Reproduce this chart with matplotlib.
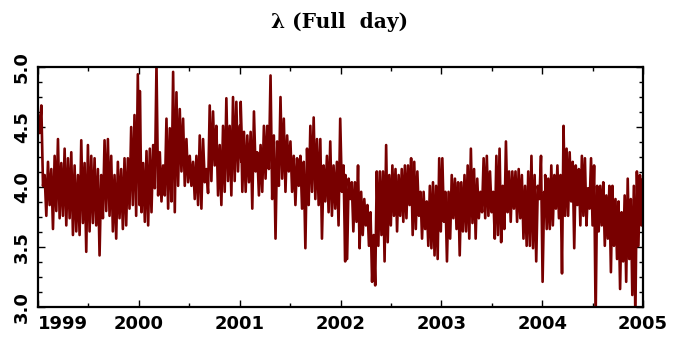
import numpy as np
import matplotlib.pyplot as plt
from matplotlib.ticker import MultipleLocator

span_1999 = (1999.00, 1999.99)
hi_1999 = [4.60, 4.68, 4.10, 4.21, 4.15, 4.26, 4.40, 4.20, 4.32, 4.24, 4.29, 4.18, 4.10, 4.39, 4.20, 4.35,
           4.26, 4.24, 4.15, 4.10, 4.39, 4.40, 4.26, 4.10, 4.21, 4.15, 4.24, 4.24, 4.50, 4.60, 4.94]
lo_1999 = [4.45, 4.01, 3.76, 3.85, 3.65, 3.80, 3.74, 3.76, 3.68, 3.74, 3.60, 3.63, 3.60, 3.70, 3.46, 3.63,
           3.70, 3.68, 3.43, 3.74, 3.80, 3.76, 3.63, 3.57, 3.74, 3.65, 3.68, 3.82, 3.85, 3.76, 3.85]

span_2000 = (2000.01, 2001.00)
hi_2000 = [4.80, 4.20, 4.30, 4.32, 4.35, 5.02, 4.29, 4.18, 4.57, 4.49, 4.96, 4.79, 4.65, 4.57, 4.40, 4.26,
           4.21, 4.26, 4.43, 4.40, 4.15, 4.68, 4.63, 4.51, 4.35, 4.51, 4.74, 4.51, 4.75, 4.71, 4.51]
lo_2000 = [3.79, 3.71, 3.68, 3.79, 3.99, 3.93, 3.88, 3.93, 3.82, 3.88, 3.79, 4.01, 4.13, 4.01, 4.04, 4.01,
           3.90, 3.85, 3.82, 4.04, 3.95, 4.05, 4.18, 3.93, 3.85, 3.96, 4.05, 3.93, 4.05, 4.13, 4.21]

span_2001 = (2001.01, 2002.03)
hi_2001 = [4.71, 4.46, 4.43, 4.46, 4.63, 4.29, 4.35, 4.51, 4.51, 4.93, 4.43, 4.38, 4.75, 4.57, 4.43, 4.38,
           4.26, 4.24, 4.26, 4.21, 4.32, 4.51, 4.58, 4.40, 4.40, 4.18, 4.26, 4.38, 4.18, 4.21, 4.57, 4.18]
lo_2001 = [3.96, 3.96, 4.04, 3.82, 4.13, 3.93, 3.96, 4.07, 4.15, 3.90, 3.57, 4.01, 4.07, 3.96, 4.13, 3.96,
           3.85, 4.01, 3.82, 3.49, 3.85, 3.96, 3.90, 3.85, 3.57, 3.88, 3.79, 3.76, 3.82, 3.68, 3.96, 3.38]

span_2002 = (2002.05, 2003.01)
hi_2002 = [4.10, 4.07, 4.04, 4.04, 4.18, 3.96, 3.90, 3.85, 3.79, 3.60, 4.13, 4.13, 4.13, 4.35, 4.10, 4.18,
           4.15, 4.10, 4.15, 4.18, 4.18, 4.24, 4.21, 4.13, 3.96, 3.96, 3.88, 4.01, 4.04, 4.01, 4.24, 4.24]
lo_2002 = [3.40, 3.90, 3.63, 3.71, 3.49, 3.60, 3.68, 3.51, 3.21, 3.18, 3.51, 3.60, 3.38, 3.54, 3.68, 3.76,
           3.63, 3.76, 3.71, 3.74, 3.85, 3.60, 3.65, 3.76, 3.57, 3.65, 3.51, 3.49, 3.43, 3.40, 3.63, 3.71]

span_2003 = (2003.04, 2004.02)
hi_2003 = [3.96, 3.96, 4.10, 4.07, 4.04, 4.04, 4.10, 4.18, 4.32, 4.15, 4.07, 3.96, 4.24, 4.26, 4.13, 3.96,
           4.26, 4.32, 4.01, 4.38, 4.13, 4.13, 4.13, 4.15, 4.10, 4.01, 4.13, 4.26, 4.10, 4.01, 4.26, 3.96]
lo_2003 = [3.38, 3.57, 3.74, 3.65, 3.43, 3.63, 3.63, 3.57, 3.70, 3.57, 3.74, 3.79, 3.74, 3.76, 3.79, 3.57,
           3.60, 3.54, 3.65, 3.79, 3.71, 3.82, 3.71, 3.74, 3.57, 3.51, 3.51, 3.49, 3.38, 3.90, 3.21, 3.79]

span_2004 = (2004.03, 2005.00)
hi_2004 = [4.10, 4.07, 4.18, 4.10, 4.18, 4.10, 4.51, 4.32, 4.29, 4.21, 4.18, 4.15, 4.26, 4.24, 3.99, 4.24,
           4.18, 4.01, 4.01, 4.04, 3.93, 4.01, 4.01, 3.90, 3.88, 3.79, 3.93, 4.07, 3.90, 4.01, 4.13, 4.10, 4.07]
lo_2004 = [3.65, 3.65, 3.68, 3.82, 3.74, 3.28, 3.76, 3.76, 3.88, 3.49, 3.85, 3.68, 3.76, 3.68, 3.82, 3.68,
           2.90, 3.63, 3.68, 3.51, 3.57, 3.29, 3.51, 3.40, 3.15, 3.38, 3.21, 3.40, 3.10, 2.90, 3.51, 3.68, 3.51]

year_ticks = [1999, 2000, 2001, 2002, 2003, 2004, 2005]
lam_ticks = [3.0, 3.5, 4.0, 4.5, 5.0]

blocks = [(span_1999, hi_1999, lo_1999), (span_2000, hi_2000, lo_2000), (span_2001, hi_2001, lo_2001),
          (span_2002, hi_2002, lo_2002), (span_2003, hi_2003, lo_2003), (span_2004, hi_2004, lo_2004)]

xs, ys = [], []
for (t0, t1), hi, lo in blocks:
    t = np.linspace(t0, t1, len(hi))
    half = (t1 - t0) / (len(hi) - 1) / 2
    xs.append(np.column_stack([t, t + half]).ravel())
    ys.append(np.column_stack([hi, lo]).ravel())
x = np.concatenate(xs)
y = np.concatenate(ys)

fig = plt.figure(figsize=(6.75, 3.37), dpi=100)
ax = fig.add_axes([0.0563, 0.089, 0.8963, 0.712])
ax.plot(x, y, color='#780000', lw=1.9)

ax.set_xlim(1999, 2005)
ax.set_ylim(3.0, 5.0)
ax.set_xticks(year_ticks)
ax.set_xticklabels([str(v) for v in year_ticks])
ax.set_yticks(lam_ticks)
ax.set_yticklabels(['%.1f' % v for v in lam_ticks])
ax.xaxis.set_minor_locator(MultipleLocator(0.5))
ax.yaxis.set_minor_locator(MultipleLocator(0.125))

ax.tick_params(which='both', direction='in', top=True, right=True, width=1.0, colors='black')
ax.tick_params(which='major', length=5)
ax.tick_params(which='minor', length=3)
ax.tick_params(axis='x', pad=6)
ax.tick_params(axis='y', labelrotation=90, pad=5)
for lab in ax.get_xticklabels() + ax.get_yticklabels():
    lab.set_fontsize(13)
    lab.set_fontweight('bold')
    lab.set_family('DejaVu Sans')
for lab in ax.get_yticklabels():
    lab.set_va('center')
ax.get_xticklabels()[0].set_ha('left')

for s in ax.spines.values():
    s.set_linewidth(1.6)
    s.set_zorder(3)

fig.text(0.503, 0.935, 'λ (Full  day)', ha='center', va='center', fontsize=14.5,
         fontweight='bold', family='DejaVu Serif')

fig.savefig('out.png', dpi=100)
